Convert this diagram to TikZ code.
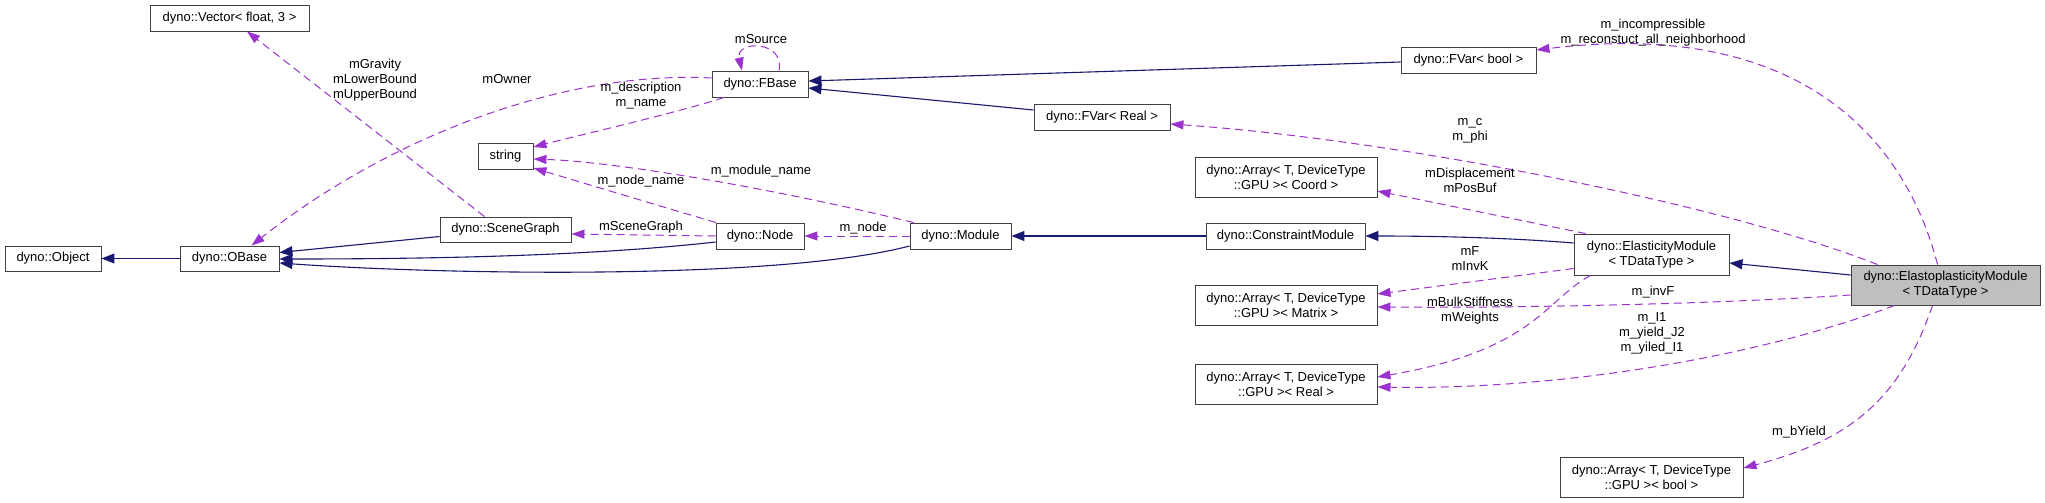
\documentclass[tikz,border=0pt]{standalone}
\usepackage{fontspec}
\setmainfont{Liberation Sans}
\usetikzlibrary{arrows.meta,calc}
\definecolor{navyedge}{HTML}{191970}
\definecolor{orchid}{HTML}{9A32CD}
\definecolor{boxline}{HTML}{404040}
\definecolor{boxgray}{HTML}{BFBFBF}
\begin{document}
\begin{tikzpicture}[x=1pt,y=-1pt,
  cls/.style={draw=boxline, line width=0.9pt, fill=white, inner sep=0pt, align=center, font=\fontsize{13}{15}\selectfont},
  inh/.style={draw=navyedge, line width=1.1pt, -{Triangle[length=13pt,width=10pt]}},
  use/.style={draw=orchid, line width=1pt, dash pattern=on 8pt off 5pt, -{Triangle[length=13pt,width=9pt]}},
  lbl/.style={inner sep=0pt, align=center, font=\fontsize{13}{15}\selectfont}]
\fill[white] (0,0) rectangle (2045,503);
\useasboundingbox (0,0) rectangle (2045,503);

% classes
\node[cls, minimum width=96pt, minimum height=25pt] (object) at (53,258.5) {dyno::Object};
\node[cls, minimum width=99pt, minimum height=25pt] (obase) at (229.5,258.5) {dyno::OBase};
\node[cls, minimum width=159pt, minimum height=26pt] (vector) at (229.5,18) {dyno::Vector< float, 3 >};
\node[cls, minimum width=55pt, minimum height=26pt] (string) at (505.5,156) {string};
\node[cls, minimum width=131pt, minimum height=25pt] (sg) at (505.5,229.5) {dyno::SceneGraph};
\node[cls, minimum width=96pt, minimum height=26pt] (fbase) at (760,84) {dyno::FBase};
\node[cls, minimum width=88pt, minimum height=26pt] (node) at (760,236) {dyno::Node};
\node[cls, minimum width=101pt, minimum height=26pt] (module) at (960.5,236) {dyno::Module};
\node[cls, minimum width=136pt, minimum height=26pt] (fvreal) at (1102,117) {dyno::FVar< Real >};
\node[cls, minimum width=135pt, minimum height=26pt] (fvbool) at (1468.5,60) {dyno::FVar< bool >};
\node[cls, minimum width=159pt, minimum height=26pt] (cm) at (1285.5,236) {dyno::ConstraintModule};
\node[cls, minimum width=182pt, minimum height=40pt] (acoord) at (1286,177) {dyno::Array< T, DeviceType\\::GPU >< Coord >};
\node[cls, minimum width=182pt, minimum height=40pt] (amatrix) at (1286,305) {dyno::Array< T, DeviceType\\::GPU >< Matrix >};
\node[cls, minimum width=182pt, minimum height=40pt] (areal) at (1286,384) {dyno::Array< T, DeviceType\\::GPU >< Real >};
\node[cls, minimum width=155pt, minimum height=41pt] (elast) at (1651.5,254.5) {dyno::ElasticityModule\\< TDataType >};
\node[cls, fill=boxgray, minimum width=189pt, minimum height=40pt] (eplast) at (1945.5,285) {dyno::ElastoplasticityModule\\< TDataType >};
\node[cls, minimum width=183pt, minimum height=40pt] (abool) at (1651.5,477) {dyno::Array< T, DeviceType\\::GPU >< bool >};

% inheritance
\draw[inh] (obase.west) -- (object.east);
\draw[inh] ($(sg.west)+(0,7)$) -- ($(obase.east)+(0,-6)$);
\draw[inh] ($(node.west)+(0,6)$) .. controls (600,255) and (450,259) .. ($(obase.east)+(0,0.5)$);
\draw[inh] ($(module.west)+(0,10)$) .. controls (780,280) and (450,275) .. ($(obase.east)+(0,4.5)$);
\draw[inh] ($(fvreal.west)+(0,-7)$) -- ($(fbase.east)+(0,4)$);
\draw[inh] ($(fvbool.west)+(0,2)$) -- ($(fbase.east)+(0,-3)$);
\draw[inh] (cm.west) -- (module.east);
\draw[inh] ($(elast.west)+(0,-11.5)$) .. controls (1500,237) and (1420,236) .. (cm.east);
\draw[inh] ($(eplast.west)+(0,-10)$) -- ($(elast.east)+(0,8.5)$);

% usage
\draw[use] ($(sg.north)+(-21,0)$) -- ($(vector.south)+(17.5,0)$);
\draw[use] ($(fbase.west)+(0,-6)$) .. controls (560,70) and (385,140) .. ($(obase.north)+(22,0)$);
\draw[use] ($(fbase.north)+(19,0)$) .. controls (785,40) and (735,40) .. ($(fbase.north)+(-18,0)$);
\draw[use] ($(fbase.south)+(-36,0)$) .. controls (680,112) and (580,135) .. ($(string.east)+(0,-9)$);
\draw[use] ($(module.north)+(-47,0)$) .. controls (780,190) and (620,162) .. ($(string.east)+(0,3)$);
\draw[use] ($(node.north)+(-44,0)$) .. controls (660,206) and (580,182) .. ($(string.east)+(0,12)$);
\draw[use] (node.west) -- ($(sg.east)+(0,4.5)$);
\draw[use] (module.west) -- (node.east);
\draw[use] ($(eplast.north)+(-8,0)$) .. controls (1900,120) and (1780,20) .. ($(fvbool.east)+(0,-10)$);
\draw[use] ($(eplast.north)+(-68,0)$) .. controls (1727,205) and (1400,140) .. ($(fvreal.east)+(0,7)$);
\draw[use] ($(elast.north)+(-66,0)$) -- ($(acoord.east)+(0,14)$);
\draw[use] ($(elast.west)+(0,14)$) -- ($(amatrix.east)+(0,-11)$);
\draw[use] ($(eplast.west)+(0,10)$) .. controls (1700,305) and (1500,308) .. ($(amatrix.east)+(0,2)$);
\draw[use] ($(elast.south)+(-61,0)$) .. controls (1545,300) and (1535,350) .. ($(areal.east)+(0,-7)$);
\draw[use] ($(eplast.south)+(-51,0)$) .. controls (1750,360) and (1550,390) .. ($(areal.east)+(0,3)$);
\draw[use] ($(eplast.south)+(-13,0)$) .. controls (1900,400) and (1850,440) .. ($(abool.east)+(0,-9)$);

% labels
\node[lbl] (l1) at (375,80) {mGravity\\mLowerBound\\mUpperBound};
\node[lbl] (l2) at (507,79) {mOwner};
\node[lbl] (l3) at (641,95.5) {m\_description\\m\_name};
\node[lbl] (l4) at (641,181) {m\_node\_name};
\node[lbl] (l5) at (641,227) {mSceneGraph};
\node[lbl] (l6) at (761,39) {mSource};
\node[lbl] (l7) at (761,171) {m\_module\_name};
\node[lbl] (l8) at (863,228) {m\_node};
\node[lbl] (l9) at (1653,32.5) {m\_incompressible\\m\_reconstuct\_all\_neighborhood};
\node[lbl] (l10) at (1470,131) {m\_c\\m\_phi};
\node[lbl] (l11) at (1470,180) {mDisplacement\\mPosBuf};
\node[lbl] (l12) at (1470,259) {mF\\mInvK};
\node[lbl] (l13) at (1653,292) {m\_invF};
\node[lbl] (l14) at (1470,310.5) {mBulkStiffness\\mWeights};
\node[lbl] (l15) at (1652,333) {m\_I1\\m\_yield\_J2\\m\_yiled\_I1};
\node[lbl] (l16) at (1799,432) {m\_bYield};
\end{tikzpicture}
\end{document}
